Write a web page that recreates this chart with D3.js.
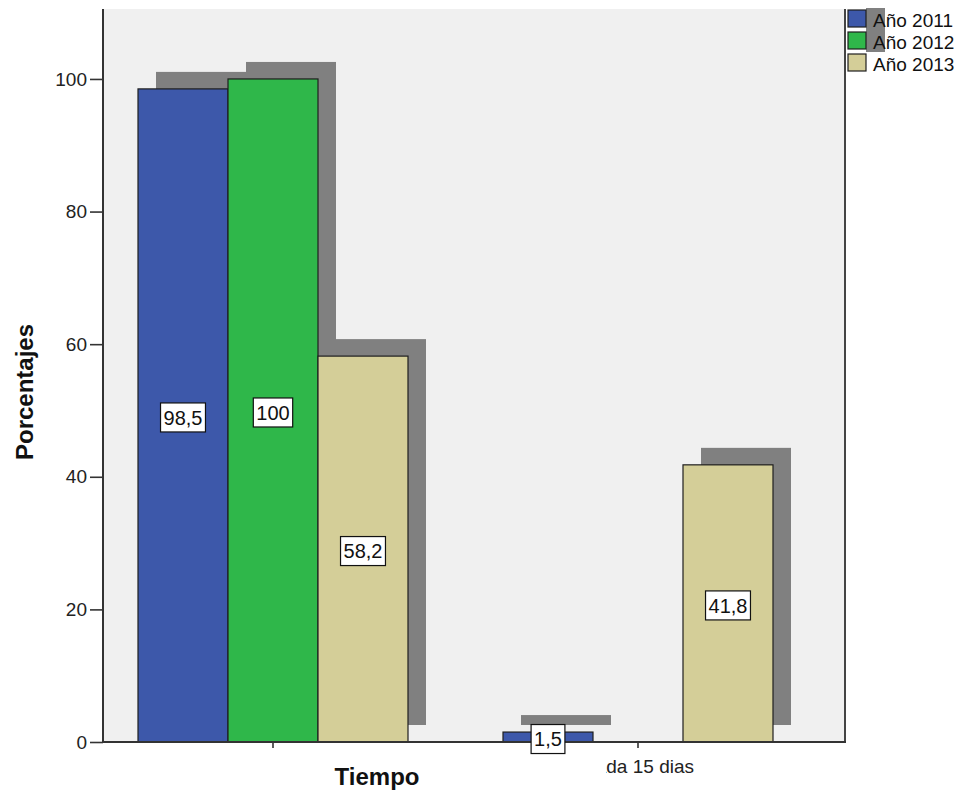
<!DOCTYPE html>
<html>
<head>
<meta charset="utf-8">
<script src="https://cdn.jsdelivr.net/npm/d3@7/dist/d3.min.js"></script>
<style>
  html, body { margin: 0; padding: 0; background: #ffffff; }
  svg { display: block; font-family: Arial, "Liberation Sans", sans-serif; }
</style>
</head>
<body>
<svg id="chart" width="965" height="796"></svg>
<script>
// ---- data ----
const categories = ["", "Cada 15 dias"];
const seriesNames = ["Año 2011", "Año 2012", "Año 2013"];
const values2011 = [98.5, 1.5];
const values2012 = [100, 0];
const values2013 = [58.2, 41.8];
const yTicks = [0, 20, 40, 60, 80, 100];
const seriesColors = ["#3d58aa", "#2fb74a", "#d4ce98"];

const seriesValues = [values2011, values2012, values2013];

// ---- layout ----
const svg = d3.select("#chart");
const plot = { left: 103, right: 845, top: 9, bottom: 742 };
const shadowDx = 18, shadowDy = -17;

const y = d3.scaleLinear().domain([0, 110.55]).range([plot.bottom, plot.top]);
const x0 = d3.scaleBand().domain(categories).range([90.5, 820.5])
  .paddingInner(95 / 365).paddingOuter(95 / 730);
const x1 = d3.scaleBand().domain(seriesNames).range([0, x0.bandwidth()]);

const fmt = v => String(v).replace(".", ",");

// plot background
svg.append("rect")
  .attr("x", plot.left).attr("y", plot.top)
  .attr("width", plot.right - plot.left).attr("height", plot.bottom - plot.top)
  .attr("fill", "#f0f0f0");

// bar data
const bars = [];
categories.forEach((c, ci) => {
  seriesNames.forEach((s, si) => {
    const v = seriesValues[si][ci];
    if (v > 0) bars.push({ cat: c, series: s, si, value: v });
  });
});

// shadows
svg.append("g").selectAll("rect").data(bars).join("rect")
  .attr("x", d => x0(d.cat) + x1(d.series) + shadowDx)
  .attr("y", d => y(d.value) + shadowDy)
  .attr("width", x1.bandwidth())
  .attr("height", d => y(0) - y(d.value))
  .attr("fill", "#808080");

// bars
svg.append("g").selectAll("rect").data(bars).join("rect")
  .attr("x", d => x0(d.cat) + x1(d.series))
  .attr("y", d => y(d.value))
  .attr("width", x1.bandwidth())
  .attr("height", d => y(0) - y(d.value))
  .attr("fill", d => seriesColors[d.si])
  .attr("stroke", "#1e1e1e")
  .attr("stroke-width", 1.2);

// y axis
const yAxis = d3.axisLeft(y).tickValues(yTicks).tickSize(13).tickPadding(3);
const gy = svg.append("g").attr("transform", `translate(${plot.left},0)`).call(yAxis);
gy.select(".domain").remove();
gy.selectAll(".tick line").attr("stroke", "#333").attr("stroke-width", 1.6);
gy.selectAll(".tick text").attr("font-size", 19).attr("fill", "#222")
  .attr("font-family", 'Arial, "Liberation Sans", sans-serif');

// x axis
const xAxis = d3.axisBottom(x0).tickSize(6).tickPadding(6)
  .tickFormat(d => d);
const gx = svg.append("g").attr("transform", `translate(0,${plot.bottom})`).call(xAxis);
gx.select(".domain").remove();
gx.selectAll(".tick line").attr("stroke", "#333").attr("stroke-width", 1.6);
gx.selectAll(".tick text").remove();

// category labels, the second one partially hidden (as in reference)
svg.append("defs").append("clipPath").attr("id", "lblclip")
  .append("rect").attr("x", 606).attr("y", 745).attr("width", 359).attr("height", 51);
svg.append("g").selectAll("text").data(categories.filter(c => c !== "")).join("text")
  .attr("x", d => x0(d) + x0.bandwidth() / 2)
  .attr("y", plot.bottom + 31)
  .attr("text-anchor", "middle")
  .attr("font-size", 19).attr("fill", "#222")
  .attr("clip-path", "url(#lblclip)")
  .text(d => d);

// axis lines
svg.append("line").attr("x1", plot.left).attr("x2", plot.left)
  .attr("y1", plot.top).attr("y2", plot.bottom)
  .attr("stroke", "#333").attr("stroke-width", 2);
svg.append("line").attr("x1", plot.right).attr("x2", plot.right)
  .attr("y1", plot.top).attr("y2", plot.bottom)
  .attr("stroke", "#444").attr("stroke-width", 2);
svg.append("line").attr("x1", plot.left - 1).attr("x2", plot.right + 1)
  .attr("y1", plot.bottom).attr("y2", plot.bottom)
  .attr("stroke", "#333").attr("stroke-width", 2);

// value labels
const lbl = svg.append("g").selectAll("g").data(bars).join("g")
  .attr("transform", d => `translate(${x0(d.cat) + x1(d.series) + x1.bandwidth() / 2},${(y(d.value) + y(0)) / 2 + 2})`);
lbl.append("text")
  .attr("text-anchor", "middle").attr("dy", "0.36em")
  .attr("font-size", 20).attr("fill", "#111")
  .text(d => fmt(d.value));
lbl.each(function () {
  const g = d3.select(this);
  const bb = g.select("text").node().getBBox();
  g.insert("rect", "text")
    .attr("x", bb.x - 3).attr("y", -14.5)
    .attr("width", bb.width + 6).attr("height", 29)
    .attr("fill", "#ffffff").attr("stroke", "#111").attr("stroke-width", 1.2);
});

// axis titles
svg.append("text")
  .attr("transform", "translate(33,392) rotate(-90)")
  .attr("text-anchor", "middle")
  .attr("font-size", 24).attr("font-weight", "bold").attr("fill", "#111")
  .text("Porcentajes");
svg.append("text")
  .attr("x", 377).attr("y", 785)
  .attr("text-anchor", "middle")
  .attr("font-size", 24).attr("font-weight", "bold").attr("fill", "#111")
  .text("Tiempo");

// legend
const leg = svg.append("g").selectAll("g").data(seriesNames).join("g")
  .attr("transform", (d, i) => `translate(848,${10 + i * 22})`);
leg.filter((d, i) => i < 2).append("rect")
  .attr("x", 18).attr("y", -2).attr("width", 19).attr("height", 22)
  .attr("fill", "#808080");
leg.append("rect")
  .attr("x", 0).attr("y", 0).attr("width", 18).attr("height", 17)
  .attr("fill", (d, i) => seriesColors[i])
  .attr("stroke", "#1e1e1e").attr("stroke-width", 1.2);
leg.append("text")
  .attr("x", 25).attr("y", 17)
  .attr("font-size", 19).attr("fill", "#111")
  .text(d => d);
</script>
</body>
</html>
